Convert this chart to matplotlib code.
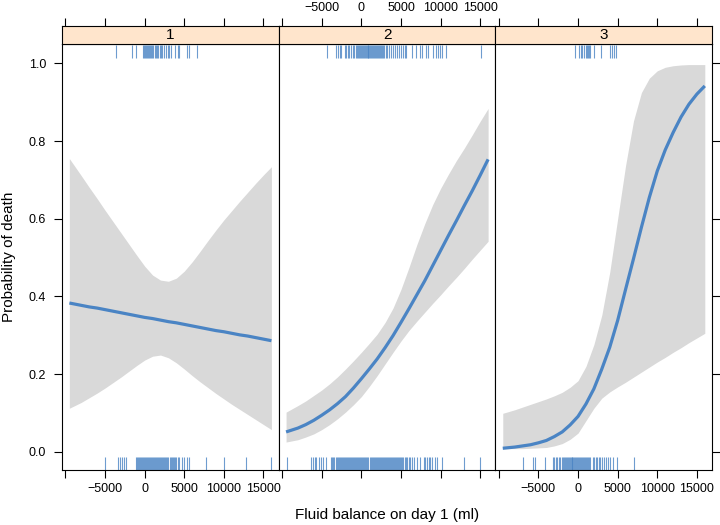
import matplotlib
matplotlib.use('Agg')
import matplotlib.pyplot as plt

plt.rcParams['font.family'] = ['Liberation Sans', 'DejaVu Sans']

#__________________________________________________________________
# Datos

panel_names = ['1', '2', '3']

fluid_grid = [-9500, -8000, -7000, -6000, -5000, -4000, -3000, -2000, -1000,
              0, 1000, 2000, 3000, 4000, 5000, 6000, 7000, 8000, 9000, 10000,
              11000, 12000, 13000, 14000, 15000, 16000]

p1_fit = [0.383, 0.377, 0.373, 0.370, 0.366, 0.362, 0.358, 0.354, 0.350,
          0.346, 0.343, 0.339, 0.335, 0.332, 0.328, 0.324, 0.320, 0.316,
          0.312, 0.309, 0.305, 0.301, 0.298, 0.294, 0.290, 0.286]
p1_hi = [0.755, 0.711, 0.681, 0.652, 0.622, 0.593, 0.564, 0.535, 0.506,
         0.478, 0.455, 0.442, 0.439, 0.447, 0.465, 0.489, 0.516, 0.544,
         0.571, 0.597, 0.621, 0.645, 0.668, 0.691, 0.713, 0.734]
p1_lo = [0.112, 0.127, 0.139, 0.151, 0.164, 0.178, 0.192, 0.207, 0.222,
         0.236, 0.246, 0.249, 0.242, 0.229, 0.213, 0.196, 0.180, 0.165,
         0.150, 0.136, 0.122, 0.109, 0.096, 0.083, 0.070, 0.057]

p2_fit = [0.051, 0.061, 0.070, 0.081, 0.094, 0.108, 0.124, 0.142, 0.164,
          0.188, 0.213, 0.239, 0.268, 0.299, 0.333, 0.368, 0.404, 0.440,
          0.479, 0.518, 0.557, 0.595, 0.634, 0.672, 0.712, 0.753]
p2_hi = [0.102, 0.119, 0.131, 0.145, 0.159, 0.175, 0.193, 0.213, 0.234,
         0.256, 0.279, 0.303, 0.333, 0.370, 0.418, 0.474, 0.533, 0.587,
         0.636, 0.678, 0.715, 0.750, 0.782, 0.816, 0.851, 0.884]
p2_lo = [0.025, 0.031, 0.038, 0.046, 0.057, 0.070, 0.085, 0.102, 0.121,
         0.142, 0.168, 0.196, 0.226, 0.256, 0.285, 0.312, 0.336, 0.359,
         0.382, 0.404, 0.427, 0.449, 0.472, 0.496, 0.519, 0.542]

p3_fit = [0.009, 0.012, 0.015, 0.018, 0.023, 0.029, 0.039, 0.051, 0.069,
          0.091, 0.123, 0.162, 0.213, 0.269, 0.338, 0.418, 0.497, 0.578,
          0.655, 0.723, 0.777, 0.822, 0.862, 0.895, 0.921, 0.942]
p3_hi = [0.099, 0.108, 0.115, 0.122, 0.129, 0.136, 0.144, 0.153, 0.166,
         0.183, 0.220, 0.276, 0.352, 0.462, 0.600, 0.737, 0.852, 0.925,
         0.962, 0.981, 0.990, 0.994, 0.996, 0.997, 0.997, 0.997]
p3_lo = [0.008, 0.008, 0.008, 0.009, 0.010, 0.011, 0.015, 0.021, 0.032,
         0.048, 0.080, 0.112, 0.138, 0.154, 0.167, 0.179, 0.192, 0.205,
         0.218, 0.231, 0.243, 0.256, 0.268, 0.281, 0.293, 0.305]

# rug: fallecidos (arriba) y supervivientes (abajo)
deaths_1 = [-3570, -1600, -1050, -200, -80, 40, 160, 280, 400, 520, 700,
            820, 900, 1100, 1250, 1400, 1550, 1700, 1900, 2050, 2200, 2400,
            2650, 2900, 3100, 3350, 3850, 4150, 4350, 5350, 5550, 6550]
surv_1 = [-5050, -3400, -3150, -2850, -2650, -2350, -1150, -1020, -890,
          -760, -630, -500, -370, -240, -110, 20, 150, 280, 410, 540, 670,
          800, 930, 1060, 1190, 1320, 1450, 1580, 1710, 1840, 1970, 2100,
          2230, 2360, 2490, 2620, 2750, 2880, 3010, 3140, 3270, 3400, 3550,
          3700, 3850, 4000, 4150, 4300, 4700, 5000, 5350, 5650, 7750,
          10050, 12850, 15950]

deaths_2 = [-4330, -3150, -2950, -2730, -2520, -2100, -1900, -1700, -1500,
            -1300, -1100, -900, -700, -550, -420, -300, -180, -60, 60, 180,
            300, 420, 540, 660, 780, 900, 1020, 1140, 1260, 1380, 1500, 1620,
            1740, 1860, 1980, 2100, 2220, 2340, 2460, 2580, 2700, 2850, 3050,
            3250, 3450, 3700, 3950, 4200, 4450, 4700, 4950, 5200, 5450, 5670,
            6430, 6930, 7440, 7690, 8190, 8400, 9030, 9370, 9660, 9870,
            10210, 10710, 15130]
surv_2 = [-9370, -6300, -6090, -5880, -5670, -5340, -5040, -4830, -4500,
          -3780, -3650, -3520, -3390, -3260, -3130, -3000, -2870, -2740,
          -2610, -2480, -2350, -2220, -2090, -1960, -1830, -1700, -1570,
          -1440, -1310, -1180, -1050, -920, -790, -660, -530, -400, -270,
          -140, -10, 120, 250, 380, 510, 640, 770, 900, 1030, 1160, 1290,
          1420, 1550, 1680, 1810, 1940, 2070, 2200, 2330, 2460, 2590, 2720,
          2850, 2980, 3110, 3240, 3370, 3500, 3630, 3760, 3890, 4020, 4150,
          4280, 4410, 4540, 4670, 4800, 4930, 5060, 5190, 5320, 5450, 5580,
          5770, 5980, 6190, 6400, 6600, 7030, 7450, 7870, 8080, 8290, 8500,
          8710, 8930, 9340, 9550, 10190, 12900, 15000]

deaths_3 = [-400, 100, 380, 550, 800, 1010, 1140, 1290, 1350, 1560, 1990,
            2930, 4010, 4300, 4600, 4850]
surv_3 = [-6970, -5710, -5460, -4220, -3150, -2980, -2820, -2650, -2400,
          -2230, -2020, -1900, -1780, -1660, -1540, -1420, -1300, -1180,
          -1060, -940, -820, -700, -580, -460, -340, -220, -100, 20, 140,
          260, 380, 500, 620, 740, 860, 980, 1100, 1220, 1350, 1560, 1890,
          2060, 2230, 2400, 2600, 2820, 3070, 3240, 3490, 3740, 4080, 4410,
          4920, 7020]

x_ticks = [-10000, -5000, 0, 5000, 10000, 15000]
x_tick_labels = ['', '\u22125000', '0', '5000', '10000', '15000']
y_ticks = [0.0, 0.2, 0.4, 0.6, 0.8, 1.0]
y_tick_labels = ['0.0', '0.2', '0.4', '0.6', '0.8', '1.0']

#__________________________________________________________________
# Estilo

LINE = '#4a84c4'
BAND = '#d9d9d9'
STRIP = '#ffe5cc'
XLIM = (-10430, 16920)
YLIM = (-0.047, 1.05)


def draw_panel(ax, x, fit, lo, hi, deaths, surv):
    ax.fill_between(x, lo, hi, color=BAND, lw=0)
    ax.plot(x, fit, color=LINE, lw=2.3, solid_capstyle='butt')
    trans = ax.get_xaxis_transform()
    ax.vlines(deaths, 0.968, 0.997, transform=trans, color=LINE, lw=0.8, alpha=0.8)
    ax.vlines(surv, 0.0, 0.03, transform=trans, color=LINE, lw=0.8, alpha=0.8)
    ax.set_xlim(*XLIM)
    ax.set_ylim(*YLIM)


def main():
    fig = plt.figure(figsize=(7.2, 5.25), dpi=100)

    W, H = 720.0, 525.0
    left0 = 62 / W
    pw = 216.7 / W
    pb = 55 / H
    ph = 426 / H
    sb = 481 / H
    sh = 18 / H

    panels = [
        (fluid_grid, p1_fit, p1_lo, p1_hi, deaths_1, surv_1),
        (fluid_grid, p2_fit, p2_lo, p2_hi, deaths_2, surv_2),
        (fluid_grid, p3_fit, p3_lo, p3_hi, deaths_3, surv_3),
    ]

    for i, data in enumerate(panels):
        ax = fig.add_axes([left0 + i * pw, pb, pw, ph])
        draw_panel(ax, *data)

        for sp in ax.spines.values():
            sp.set_linewidth(0.8)
            sp.set_color('black')

        ax.set_xticks(x_ticks)
        ax.set_xticklabels(x_tick_labels)
        ax.tick_params(axis='x', direction='out', length=5.5, width=0.8,
                       labelsize=9, pad=4, top=False,
                       labelbottom=(i != 1))
        ax.set_yticks(y_ticks)
        ax.set_yticklabels(y_tick_labels)
        ax.tick_params(axis='y', direction='out', length=5.5, width=0.8,
                       labelsize=9, pad=6,
                       left=(i == 0), labelleft=(i == 0),
                       right=(i == 2), labelright=False)

        # tira superior estilo lattice
        st = fig.add_axes([left0 + i * pw, sb, pw, sh])
        st.set_facecolor(STRIP)
        st.set_xlim(*XLIM)
        st.set_ylim(0, 1)
        st.set_yticks([])
        st.set_xticks(x_ticks)
        st.set_xticklabels(x_tick_labels)
        st.tick_params(axis='x', direction='out', length=5.5, width=0.8,
                       labelsize=9, pad=3, top=True, bottom=False,
                       labeltop=(i == 1), labelbottom=False)
        for sp in st.spines.values():
            sp.set_linewidth(0.8)
            sp.set_color('black')
        st.text(0.5, 0.5, panel_names[i], transform=st.transAxes,
                ha='center', va='center', fontsize=11)

    fig.text(9 / W, 1 - 257 / H, 'Probability of death', rotation=90,
             ha='center', va='center', fontsize=11)
    fig.text(387 / W, 1 - 515 / H, 'Fluid balance on day 1 (ml)',
             ha='center', va='center', fontsize=11)

    fig.savefig('out.png', dpi=100)


main()
